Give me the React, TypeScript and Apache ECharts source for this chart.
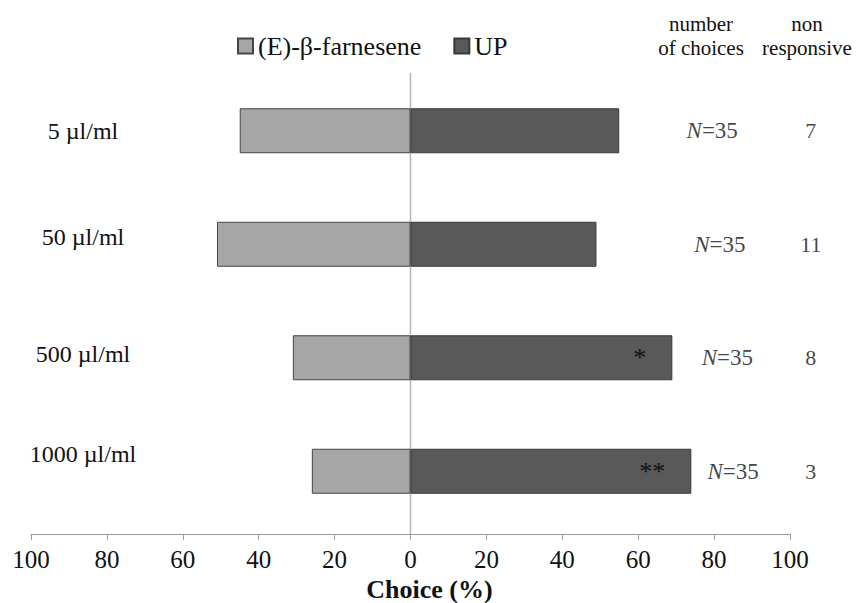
import React, { useEffect, useRef } from "react";
import * as echarts from "echarts";

// ---- data ----
const categories = ["5 µl/ml", "50 µl/ml", "500 µl/ml", "1000 µl/ml"];
const seriesNames = ["(E)-β-farnesene", "UP"];
const farnesene = [45, 51, 31, 26];
const up = [55, 49, 69, 74];
const significance = ["", "", "*", "**"];
const nChoices = [35, 35, 35, 35];
const nonResponsive = [7, 11, 8, 3];
const headerChoices = "number\nof choices";
const headerNonResp = "non\nresponsive";
const axisTitle = "Choice (%)";

// ---- layout (not data) ----
const FONT = "'Liberation Serif', 'Times New Roman', serif";
const GRID = { left: 31, right: 71, top: 74, bottom: 75 };
const AXIS_OFFSET = 6;
const nLabelX = [79.5, 81.5, 83.5, 85];
const nonRespX = 105.5;
const labelRaise = [0, 7, 4, 17];

export default function App() {
  const ref = useRef<HTMLDivElement>(null);
  useEffect(() => {
    document.body.style.margin = "0";
    if (!ref.current) return;
    const chart = echarts.init(ref.current, undefined, { renderer: "svg" });
    const H = 603;
    const rich: any = {};
    labelRaise.forEach((r, i) => {
      rich["r" + i] = {
        fontFamily: FONT,
        fontSize: 24,
        color: "#111",
        padding: [0, 0, r * 2, 0],
      };
    });
    const option: any = {
      animation: false,
      backgroundColor: "#ffffff",
      textStyle: { fontFamily: FONT },
      legend: {
        data: seriesNames,
        left: 232,
        top: 28,
        itemWidth: 15,
        itemHeight: 15,
        itemGap: 32,
        icon: "rect",
        textStyle: { fontFamily: FONT, fontSize: 26, color: "#111" },
      },
      grid: { ...GRID, containLabel: false, outerBoundsMode: "none" },
      xAxis: {
        type: "value",
        min: -100,
        max: 100,
        interval: 20,
        offset: AXIS_OFFSET,
        axisLine: { show: true, lineStyle: { color: "#9a9a9a", width: 1 } },
        axisTick: { show: true, length: 6, lineStyle: { color: "#9a9a9a" } },
        splitLine: { show: false },
        axisLabel: {
          margin: 13,
          fontFamily: FONT,
          fontSize: 25,
          color: "#111",
          formatter: (v: number) => String(Math.abs(v)),
        },
        name: axisTitle,
        nameLocation: "middle",
        nameGap: 42,
        nameTextStyle: {
          fontFamily: FONT,
          fontSize: 26,
          fontWeight: "bold",
          color: "#111",
          padding: [0, 0, 0, 38],
        },
      },
      yAxis: {
        type: "category",
        inverse: true,
        data: categories,
        axisLine: { show: false, onZero: false },
        axisTick: { show: false },
        splitLine: { show: false },
        axisLabel: {
          align: "center",
          margin: -52,
          fontFamily: FONT,
          fontSize: 24,
          color: "#111",
          formatter: (v: string, i: number) => `{r${i}|${v}}`,
          rich,
        },
      },
      series: [
        {
          name: seriesNames[0],
          type: "bar",
          stack: "total",
          barWidth: 45,
          data: farnesene.map((v) => -v),
          itemStyle: { color: "#a6a6a6", borderColor: "#454545", borderWidth: 1 },
        },
        {
          name: seriesNames[1],
          type: "bar",
          stack: "total",
          barWidth: 45,
          data: up,
          itemStyle: { color: "#595959", borderColor: "#3a3a3a", borderWidth: 1 },
          label: {
            show: true,
            position: "insideRight",
            distance: 26,
            fontFamily: FONT,
            fontSize: 26,
            color: "#111",
            formatter: (p: any) => significance[p.dataIndex],
          },
        },
        {
          type: "scatter",
          symbolSize: 0,
          silent: true,
          clip: false,
          data: nChoices.map((_, i) => [nLabelX[i], i]),
          label: {
            show: true,
            position: "inside",
            fontFamily: FONT,
            fontSize: 23,
            color: "#111",
            formatter: (p: any) => `{i|N}=${nChoices[p.dataIndex]}`,
            rich: {
              i: { fontFamily: FONT, fontSize: 23, fontStyle: "italic", color: "#111" },
            },
          },
        },
        {
          type: "scatter",
          symbolSize: 0,
          silent: true,
          clip: false,
          data: nonResponsive.map((_, i) => [nonRespX, i]),
          label: {
            show: true,
            position: "inside",
            fontFamily: FONT,
            fontSize: 22,
            color: "#111",
            formatter: (p: any) => String(nonResponsive[p.dataIndex]),
          },
        },
      ],
    };
    chart.setOption(option);
    const x0 = chart.convertToPixel({ xAxisIndex: 0 }, 0) as number;
    const axisY = H - GRID.bottom + AXIS_OFFSET;
    chart.setOption({
      graphic: [
        {
          type: "line",
          z: 1,
          shape: { x1: x0, y1: GRID.top - 1, x2: x0, y2: axisY },
          style: { stroke: "#b5b5b5", lineWidth: 1.5 },
          silent: true,
        },
        {
          type: "text",
          x: 701,
          y: 12,
          style: {
            text: headerChoices,
            fontFamily: FONT,
            fontSize: 21,
            lineHeight: 24,
            fill: "#111",
            align: "center",
          },
        },
        {
          type: "text",
          x: 807,
          y: 12,
          style: {
            text: headerNonResp,
            fontFamily: FONT,
            fontSize: 21,
            lineHeight: 24,
            fill: "#111",
            align: "center",
          },
        },
      ],
    });
    return () => chart.dispose();
  }, []);
  return <div ref={ref} style={{ width: 861, height: 603 }} />;
}
